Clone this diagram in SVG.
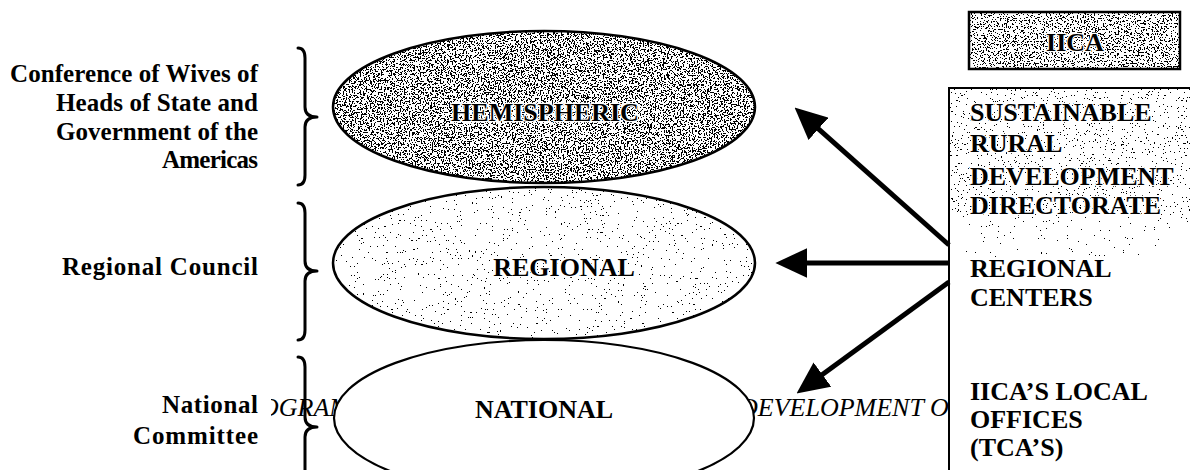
<svg xmlns="http://www.w3.org/2000/svg" width="1190" height="470" viewBox="0 0 1190 470">
<style>
.lbl{font-family:"Liberation Serif","Times New Roman",serif;font-weight:bold;font-size:25px;fill:#000}
.big{font-family:"Liberation Serif","Times New Roman",serif;font-weight:bold;font-size:26px;fill:#000}
.halo{stroke:#fff;stroke-width:2.5;paint-order:stroke;stroke-linejoin:round}
.ital{font-family:"Liberation Serif","Times New Roman",serif;font-style:italic;font-size:26px;fill:#000}
.ell{stroke:#000;stroke-width:2.5;fill:none}
.brace{fill:none;stroke:#000;stroke-width:3;stroke-linecap:round;stroke-linejoin:round}
.arrow{stroke:#000;stroke-width:5;fill:none}
.box{fill:#fff;stroke:#000;stroke-width:2}
</style>
<defs>
<filter id="spDense" x="0" y="0" width="1" height="1" color-interpolation-filters="sRGB">
<feTurbulence type="fractalNoise" baseFrequency="0.65" numOctaves="2" seed="4"/>
<feColorMatrix type="matrix" values="0 0 0 0 0  0 0 0 0 0  0 0 0 0 0  -10 0 0 0 5.0"/>
<feComponentTransfer><feFuncA type="discrete" tableValues="0 1"/></feComponentTransfer>
<feComposite operator="in" in2="SourceAlpha"/>
</filter>
<filter id="spMed" x="0" y="0" width="1" height="1" color-interpolation-filters="sRGB">
<feTurbulence type="fractalNoise" baseFrequency="0.65" numOctaves="2" seed="7"/>
<feColorMatrix type="matrix" values="0 0 0 0 0  0 0 0 0 0  0 0 0 0 0  -10 0 0 0 3.5"/>
<feComponentTransfer><feFuncA type="discrete" tableValues="0 1"/></feComponentTransfer>
<feComposite operator="in" in2="SourceAlpha"/>
</filter>
<filter id="spLight" x="0" y="0" width="1" height="1" color-interpolation-filters="sRGB">
<feTurbulence type="fractalNoise" baseFrequency="0.65" numOctaves="2" seed="11"/>
<feColorMatrix type="matrix" values="0 0 0 0 0  0 0 0 0 0  0 0 0 0 0  -10 0 0 0 3.1"/>
<feComponentTransfer><feFuncA type="discrete" tableValues="0 1"/></feComponentTransfer>
<feComposite operator="in" in2="SourceAlpha"/>
</filter>
<filter id="spFaint" x="0" y="0" width="1" height="1" color-interpolation-filters="sRGB">
<feTurbulence type="fractalNoise" baseFrequency="0.65" numOctaves="2" seed="13"/>
<feColorMatrix type="matrix" values="0 0 0 0 0  0 0 0 0 0  0 0 0 0 0  -10 0 0 0 2.9"/>
<feComponentTransfer><feFuncA type="discrete" tableValues="0 1"/></feComponentTransfer>
<feComposite operator="in" in2="SourceAlpha"/>
</filter>
<filter id="spIica" x="0" y="0" width="1" height="1" color-interpolation-filters="sRGB">
<feTurbulence type="fractalNoise" baseFrequency="0.65" numOctaves="2" seed="2"/>
<feColorMatrix type="matrix" values="0 0 0 0 0  0 0 0 0 0  0 0 0 0 0  -10 0 0 0 4.6"/>
<feComponentTransfer><feFuncA type="discrete" tableValues="0 1"/></feComponentTransfer>
<feComposite operator="in" in2="SourceAlpha"/>
</filter>
<clipPath id="clipProg"><rect x="271" y="380" width="70" height="50"/></clipPath>
<marker id="ah" markerUnits="userSpaceOnUse" markerWidth="32" markerHeight="30" viewBox="0 0 31 29" refX="11" refY="14.5" orient="auto">
<path d="M0,0 L31,14.5 L0,29 Z" fill="#000"/>
</marker>
</defs>
<rect width="1190" height="470" fill="#fff"/>

<!-- partially hidden italic text fragments (behind shapes) -->
<g id="hidden-text">
<text class="ital" x="260" y="416" clip-path="url(#clipProg)">OGRAM</text>
<text class="ital" x="739" y="416">DEVELOPMENT OF</text>
</g>

<g id="labels">
<text class="lbl" x="258" y="82" text-anchor="end" textLength="248">Conference of  Wives of</text>
<text class="lbl" x="258" y="111" text-anchor="end" textLength="202">Heads of  State and</text>
<text class="lbl" x="258" y="140" text-anchor="end" textLength="202">Government of  the</text>
<text class="lbl" x="258" y="168" text-anchor="end" textLength="96">Americas</text>
<text class="lbl" x="258" y="275" text-anchor="end" textLength="196">Regional Council</text>
<text class="lbl" x="258" y="413" text-anchor="end" textLength="96">National</text>
<text class="lbl" x="258" y="444" text-anchor="end" textLength="125">Committee</text>
</g>

<g id="node-hemispheric">
<ellipse cx="544" cy="107" rx="211" ry="76" fill="#fff"/>
<ellipse cx="544" cy="107" rx="211" ry="76" fill="#000" filter="url(#spDense)"/>
<ellipse class="ell" cx="544" cy="107" rx="211" ry="76"/>
<text class="big halo" x="545" y="121" text-anchor="middle">HEMISPHERIC</text>
</g>

<g id="node-regional">
<ellipse cx="544" cy="263" rx="211" ry="76" fill="#fff"/>
<ellipse cx="544" cy="263" rx="211" ry="76" fill="#000" filter="url(#spLight)"/>
<ellipse class="ell" cx="544" cy="263" rx="211" ry="76"/>
<text class="big halo" x="564" y="276" text-anchor="middle">REGIONAL</text>
</g>

<g id="node-national">
<ellipse cx="544" cy="418" rx="210" ry="78" fill="#fff" stroke="#000" stroke-width="2.2"/>
<text class="big" x="544" y="418" text-anchor="middle">NATIONAL</text>
</g>

<g id="braces">
<path class="brace" d="M298,48 Q305,48 305,58 L305,107 Q305,117 317,117 Q305,117 305,127 L305,175 Q305,185 298,185"/>
<path class="brace" d="M298,203 Q305,203 305,213 L305,261 Q305,271 317,271 Q305,271 305,281 L305,330 Q305,340 298,340"/>
<path class="brace" d="M298,357 Q305,357 305,367 L305,417 Q305,427 317,427 Q305,427 305,437 L305,487 Q305,497 298,497"/>
</g>

<g id="node-iica">
<rect class="box" x="969" y="12" width="211" height="57"/>
<rect x="970" y="13" width="209" height="55" fill="#000" filter="url(#spIica)"/>
<rect x="969" y="12" width="211" height="57" fill="none" stroke="#000" stroke-width="2.5"/>
<text class="big halo" x="1075" y="51" text-anchor="middle" font-size="31">IICA</text>
</g>

<g id="node-iica-structure">
<rect class="box" x="949" y="88" width="260" height="400"/>
<rect x="950" y="89" width="240" height="126" fill="#000" filter="url(#spMed)"/>
<rect x="950" y="215" width="240" height="42" fill="#000" filter="url(#spFaint)"/>
<rect x="949" y="88" width="260" height="400" fill="none" stroke="#000" stroke-width="2"/>
<text class="big halo" x="970" y="121">SUSTAINABLE</text>
<text class="big halo" x="970" y="152">RURAL</text>
<text class="big halo" x="970" y="185">DEVELOPMENT</text>
<text class="big halo" x="970" y="214">DIRECTORATE</text>
<text class="big" x="970" y="277">REGIONAL</text>
<text class="big" x="970" y="306">CENTERS</text>
<text class="big" x="970" y="400">IICA’S LOCAL</text>
<text class="big" x="970" y="428">OFFICES</text>
<text class="big" x="970" y="456">(TCA’S)</text>
</g>

<g id="connectors">
<line class="arrow" x1="949" y1="245" x2="810" y2="121.3" marker-end="url(#ah)"/>
<line class="arrow" x1="949" y1="263" x2="796" y2="263" marker-end="url(#ah)"/>
<line class="arrow" x1="949" y1="282" x2="813.2" y2="381.2" marker-end="url(#ah)"/>
</g>
</svg>
